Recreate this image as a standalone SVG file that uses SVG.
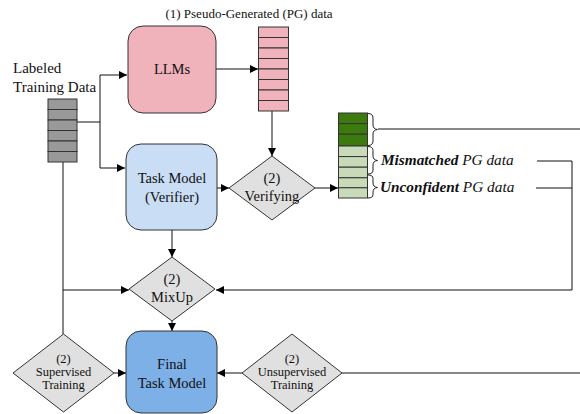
<svg xmlns="http://www.w3.org/2000/svg" width="580" height="414" viewBox="0 0 580 414">
  <style>
    text { font-family: "Liberation Serif", "Times New Roman", serif; fill: #111; text-anchor: middle; }
    .main { font-size: 14.5px; }
    .label { font-size: 15px; text-anchor: start; }
    .small { font-size: 12.5px; }
    .title { font-size: 13px; }
    .note { font-size: 15.3px; font-style: italic; text-anchor: start; }
    .box { stroke: #333; stroke-width: 1; }
    .dia { fill: #e0e0e0; stroke: #333; stroke-width: 1; }
    .cell { stroke: #333; stroke-width: 1; }
    .wire { fill: none; stroke: #111; stroke-width: 1; }
    .arrow { fill: none; stroke: #111; stroke-width: 1; marker-end: url(#head); }
    .brace { fill: none; stroke: #222; stroke-width: 1; }
  </style>
  <defs>
    <marker id="head" viewBox="0 0 10 10" refX="10" refY="5" markerWidth="9" markerHeight="8" markerUnits="userSpaceOnUse" orient="auto">
      <path d="M0,0 L10,5 L0,10 Z" fill="#000"/>
    </marker>
  </defs>

  <!-- connectors -->
  <g id="connectors">
    <path class="wire" d="M77,122 H100"/>
    <path class="arrow" d="M100,122 V75 H127"/>
    <path class="arrow" d="M100,122 V168 H125"/>
    <path class="arrow" d="M216,69 H258"/>
    <path class="arrow" d="M272,111 V156"/>
    <path class="arrow" d="M217,188 H229"/>
    <path class="arrow" d="M315,188 H338"/>
    <path class="wire" d="M378,129 H580"/>
    <path class="wire" d="M537,161 H572"/>
    <path class="wire" d="M536,188 H572"/>
    <path class="arrow" d="M572,161 V290 H216"/>
    <path class="arrow" d="M172,230 V257"/>
    <path class="wire" d="M63,162 V334"/>
    <path class="arrow" d="M63,290 H129"/>
    <path class="arrow" d="M172,321 V331"/>
    <path class="arrow" d="M114,373 H126"/>
    <path class="arrow" d="M242,373 H217"/>
    <path class="wire" d="M580,373 H342"/>
  </g>

  <!-- labeled training data -->
  <g id="labeled-data">
    <text class="label" x="13" y="73">Labeled</text>
    <text class="label" x="13" y="92">Training Data</text>
    <g fill="#999">
      <rect class="cell" x="48" y="99" width="29" height="10.5"/>
      <rect class="cell" x="48" y="109.5" width="29" height="10.5"/>
      <rect class="cell" x="48" y="120" width="29" height="10.5"/>
      <rect class="cell" x="48" y="130.5" width="29" height="10.5"/>
      <rect class="cell" x="48" y="141" width="29" height="10.5"/>
      <rect class="cell" x="48" y="151.5" width="29" height="10.5"/>
    </g>
  </g>

  <!-- LLMs -->
  <g id="llms">
    <rect class="box" x="128" y="26" width="88" height="87" rx="15" fill="#f0b2bb"/>
    <text class="main" x="172" y="74">LLMs</text>
  </g>

  <!-- pseudo-generated data -->
  <g id="pg-data">
    <text class="title" x="249" y="18">(1) Pseudo-Generated (PG) data</text>
    <g fill="#f0b2bb">
      <rect class="cell" x="258.5" y="27" width="30" height="10.5"/>
      <rect class="cell" x="258.5" y="37.5" width="30" height="10.5"/>
      <rect class="cell" x="258.5" y="48" width="30" height="10.5"/>
      <rect class="cell" x="258.5" y="58.5" width="30" height="10.5"/>
      <rect class="cell" x="258.5" y="69" width="30" height="10.5"/>
      <rect class="cell" x="258.5" y="79.5" width="30" height="10.5"/>
      <rect class="cell" x="258.5" y="90" width="30" height="10.5"/>
      <rect class="cell" x="258.5" y="100.5" width="30" height="10.5"/>
    </g>
  </g>

  <!-- task model (verifier) -->
  <g id="task-model">
    <rect class="box" x="126" y="144" width="91" height="86" rx="15" fill="#c9ddf5"/>
    <text class="main" x="172" y="183">Task Model</text>
    <text class="main" x="172" y="202">(Verifier)</text>
  </g>

  <!-- verifying -->
  <g id="verifying">
    <path class="dia" d="M272,156 L315,188 L272,220 L229,188 Z"/>
    <text class="main" x="272" y="183">(2)</text>
    <text class="main" x="272" y="201">Verifying</text>
  </g>

  <!-- verified data split -->
  <g id="verified-data">
    <g fill="#3d7a0e">
      <rect class="cell" x="338.5" y="113" width="29" height="10.6"/>
      <rect class="cell" x="338.5" y="123.6" width="29" height="10.6"/>
      <rect class="cell" x="338.5" y="134.2" width="29" height="11.8"/>
    </g>
    <g fill="#c9dab8">
      <rect class="cell" x="338.5" y="146" width="29" height="10.6"/>
      <rect class="cell" x="338.5" y="156.6" width="29" height="10.6"/>
      <rect class="cell" x="338.5" y="167.2" width="29" height="10.6"/>
      <rect class="cell" x="338.5" y="177.8" width="29" height="10"/>
      <rect class="cell" x="338.5" y="187.8" width="29" height="10.2"/>
    </g>
    <path class="brace" d="M368,113.5 Q373,113.5 373,118 V125 Q373,129 377.5,129.5 Q373,130 373,134 V141 Q373,145.5 368,145.5"/>
    <path class="brace" d="M368,146.5 Q373,146.5 373,150.5 V156 Q373,160 377.5,160.5 Q373,161 373,165 V170 Q373,174 368,174"/>
    <path class="brace" d="M368,175 Q373,175 373,178.5 V183 Q373,187 377.5,187.5 Q373,188 373,192 V194.5 Q373,198 368,198"/>
    <text class="note" x="381" y="165"><tspan font-weight="bold">Mismatched</tspan> PG data</text>
    <text class="note" x="380" y="192"><tspan font-weight="bold">Unconfident</tspan> PG data</text>
  </g>

  <!-- mixup -->
  <g id="mixup">
    <path class="dia" d="M172,257 L215,289 L172,321 L129,289 Z"/>
    <text class="main" x="172" y="284">(2)</text>
    <text class="main" x="172" y="302">MixUp</text>
  </g>

  <!-- supervised training -->
  <g id="supervised">
    <path class="dia" d="M63.5,334 L114,373 L63.5,412 L13,373 Z"/>
    <text class="small" x="63.5" y="363">(2)</text>
    <text class="small" x="63.5" y="376">Supervised</text>
    <text class="small" x="63.5" y="389">Training</text>
  </g>

  <!-- final task model -->
  <g id="final-model">
    <rect class="box" x="126" y="331" width="91" height="82" rx="15" fill="#7eb0e8"/>
    <text class="main" x="172" y="369">Final</text>
    <text class="main" x="172" y="388">Task Model</text>
  </g>

  <!-- unsupervised training -->
  <g id="unsupervised">
    <path class="dia" d="M292,334 L342,373 L292,412 L242,373 Z"/>
    <text class="small" x="292" y="363">(2)</text>
    <text class="small" x="292" y="376">Unsupervised</text>
    <text class="small" x="292" y="389">Training</text>
  </g>
</svg>
